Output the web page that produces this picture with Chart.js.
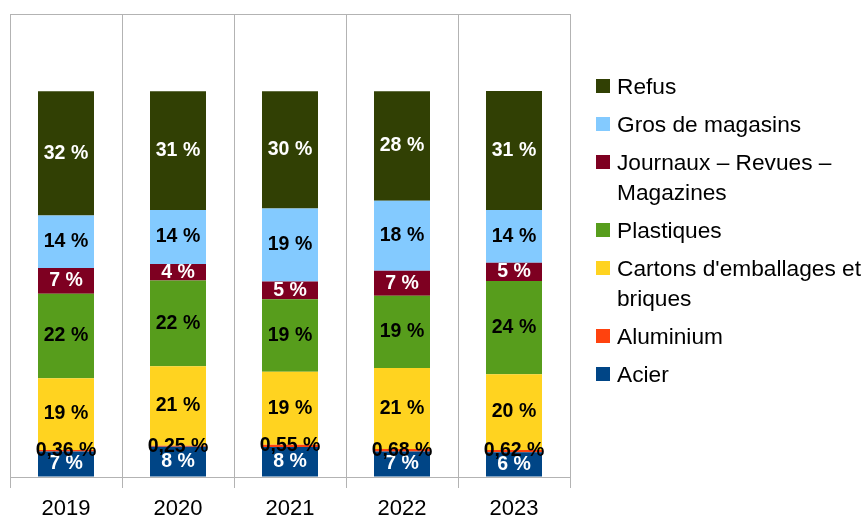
<!DOCTYPE html>
<html>
<head>
<meta charset="utf-8">
<script src="https://cdn.jsdelivr.net/npm/chart.js@4"></script>
<style>
  body { margin: 0; background: #fff; }
  #wrap { position: relative; width: 864px; height: 520px; }
  #legend { position: absolute; left: 596px; top: 71px; font-family: "Liberation Sans", Arial, sans-serif; font-size: 22.7px; color: #000; }
  .item { display: flex; align-items: flex-start; margin-bottom: 8px; line-height: 30px; }
  .box { width: 14px; height: 14px; margin-top: 8px; margin-right: 7px; flex: none; }
</style>
</head>
<body>
<div id="wrap">
  <canvas id="myChart" width="864" height="520"></canvas>
  <div id="legend"></div>
</div>
<script>
// Composition (%) par année
const years = ["2019", "2020", "2021", "2022", "2023"];

const acier = [6.64, 7.85, 7.8, 6.6, 6.4];
const aluminium = [0.36, 0.25, 0.55, 0.68, 0.62];
const cartons = [18.6, 20.6, 18.9, 21.0, 19.6];
const plastiques = [21.9, 22.2, 18.85, 18.7, 24.2];
const journaux = [6.7, 4.3, 4.6, 6.5, 4.7];
const gros = [13.55, 14.0, 18.9, 18.1, 13.7];
const refus = [32.25, 30.8, 30.4, 28.4, 30.8];

const names = ["Acier", "Aluminium", "Cartons d'emballages et briques", "Plastiques", "Journaux – Revues – Magazines", "Gros de magasins", "Refus"];
const legendLines = [["Acier"], ["Aluminium"], ["Cartons d'emballages et", "briques"], ["Plastiques"], ["Journaux – Revues –", "Magazines"], ["Gros de magasins"], ["Refus"]];
const series = [acier, aluminium, cartons, plastiques, journaux, gros, refus];
const colors = ["#004586", "#ff420e", "#ffd320", "#579d1c", "#7e0021", "#83caff", "#314004"];
const labelColors = ["#fff", "#000", "#000", "#000", "#fff", "#000", "#fff"];
const decimals = [0, 2, 0, 0, 0, 0, 0];

const gridColor = "#b3b3b3";

const fmt = (v, d) => v.toFixed(d).replace(".", ",") + " %";

const barLabels = {
  id: "barLabels",
  afterDatasetsDraw(chart) {
    const ctx = chart.ctx;
    ctx.save();
    ctx.font = 'bold 19.5px "Liberation Sans", Arial, sans-serif';
    ctx.textAlign = "center";
    ctx.textBaseline = "middle";
    chart.data.datasets.forEach((ds, i) => {
      const meta = chart.getDatasetMeta(i);
      meta.data.forEach((bar, j) => {
        ctx.fillStyle = labelColors[i];
        ctx.fillText(fmt(ds.data[j], decimals[i]), bar.x, (bar.y + bar.base) / 2);
      });
    });
    ctx.restore();
  }
};

new Chart(document.getElementById("myChart"), {
  type: "bar",
  data: {
    labels: years,
    datasets: series.map((s, i) => ({
      label: names[i],
      data: s,
      backgroundColor: colors[i],
      borderWidth: 0,
      categoryPercentage: 1,
      barPercentage: 0.5
    }))
  },
  options: {
    responsive: false,
    animation: false,
    layout: { padding: { left: 10, top: 14, right: 294, bottom: 0 } },
    plugins: {
      legend: { display: false },
      tooltip: { enabled: false }
    },
    scales: {
      x: {
        stacked: true,
        afterFit: s => { s.height = 43; },
        grid: { color: gridColor, tickLength: 11, offset: true },
        border: { color: gridColor },
        ticks: { color: "#000", padding: 8, font: { family: "Liberation Sans", size: 22 } }
      },
      y: {
        stacked: true,
        min: 0,
        max: 120,
        ticks: { display: false, stepSize: 120 },
        grid: { color: gridColor, drawTicks: false },
        border: { display: false }
      }
    }
  },
  plugins: [barLabels]
});

// légende (ordre inversé : Refus en haut)
const legend = document.getElementById("legend");
for (let i = series.length - 1; i >= 0; i--) {
  const item = document.createElement("div");
  item.className = "item";
  const box = document.createElement("span");
  box.className = "box";
  box.style.background = colors[i];
  const txt = document.createElement("span");
  txt.innerHTML = legendLines[i].join("<br>");
  item.appendChild(box);
  item.appendChild(txt);
  legend.appendChild(item);
}
</script>
</body>
</html>
